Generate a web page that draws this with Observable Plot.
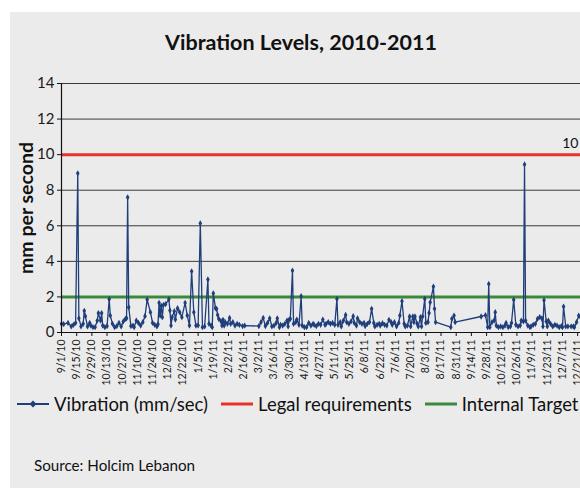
<!DOCTYPE html>
<html>
<head>
<meta charset="utf-8">
<script src="https://cdn.jsdelivr.net/npm/d3@7"></script>
<script src="https://cdn.jsdelivr.net/npm/@observablehq/plot@0.6"></script>
<style>
  html, body { margin: 0; padding: 0; background: #fff; overflow: hidden; }
  #wrap { position: relative; width: 580px; height: 488px; overflow: hidden; background: #fff; font-family: Lato, "Open Sans", sans-serif; }
  #panel { position: absolute; left: 10px; top: 12px; width: 600px; height: 476px; background: #ebebeb; }
  #title { position: absolute; left: 0; width: 602px; top: 29px; text-align: center; font-size: 21.5px; font-weight: 700; color: #111; }
  #chart { position: absolute; left: 0; top: 0; width: 600px; }
  #chart svg { max-width: none !important; }
  #legend { position: absolute; left: 17px; top: 391px; white-space: nowrap; font-size: 18.5px; color: #111; }
  #legend span.item { display: inline-flex; align-items: center; margin-right: 13px; }
  #legend svg { margin-right: 5px; }
  #source { position: absolute; left: 34px; top: 456px; font-size: 15.2px; color: #111; }
</style>
</head>
<body>
<div id="wrap">
  <div id="panel"></div>
  <div id="title">Vibration Levels, 2010-2011</div>
  <div id="chart"></div>
  <div id="legend"></div>
  <div id="source">Source: Holcim Lebanon</div>
</div>
<script>
// ---- data ----
const startDate = "2010-09-01";
const endDate = "2011-12-31";
// days since startDate for each vibration reading
const dayOffsets = [0,2,6,9,11,13,15,16,18,20,21,22,24,26,27,29,31,33,34,36,37,38,40,42,44,45,47,49,51,53,55,57,59,60,61,62,64,66,67,69,71,73,75,77,79,82,84,86,88,89,90,91,92,93,94,96,99,100,101,102,104,105,107,109,111,114,116,118,120,122,124,126,128,130,132,135,136,138,139,140,142,143,144,145,147,148,149,150,151,153,155,156,158,160,162,164,167,169,182,184,186,188,190,192,194,196,198,199,201,202,204,206,208,209,210,211,213,214,216,217,219,221,222,224,226,228,230,232,233,235,237,239,241,243,244,246,248,250,252,254,255,257,258,260,262,263,265,267,269,270,272,273,275,277,279,280,282,284,286,288,289,291,293,294,296,298,300,302,304,305,307,309,311,312,314,316,317,319,321,322,324,325,326,328,329,331,332,333,335,336,338,339,340,343,344,345,359,360,362,363,387,391,393,394,395,397,399,400,401,403,405,407,409,410,412,414,415,417,419,421,423,424,426,427,428,430,432,433,435,437,439,441,443,444,445,447,448,449,451,453,455,457,459,461,462,463,465,467,470,472,473,475,477,480,483];
const vibration = [0.49,0.47,0.54,0.34,0.43,0.54,8.95,0.8,0.34,0.49,1.22,0.92,0.34,0.54,0.39,0.3,0.3,0.67,1.09,0.67,1.09,0.39,0.3,0.36,1.87,0.95,0.49,0.3,0.36,0.54,0.34,0.62,0.77,0.8,7.6,1.42,0.36,0.39,0.3,0.67,0.54,0.39,0.58,0.92,1.85,1.14,0.54,0.43,0.34,0.47,1.67,0.95,1.5,0.86,1.55,1.6,1.87,1.24,0.39,0.86,1.2,0.73,1.37,1.14,0.86,1.67,0.95,0.39,3.44,1.14,0.39,0.4,6.14,0.3,0.34,2.98,0.49,0.39,0.3,2.2,1.37,1.33,0.99,0.77,0.64,0.39,0.71,0.39,0.58,0.49,0.82,0.49,0.58,0.39,0.49,0.43,0.36,0.39,0.36,0.58,0.82,0.36,0.54,0.8,0.34,0.39,0.54,0.8,0.3,0.43,0.39,0.49,0.67,0.34,0.73,0.77,3.48,0.49,0.58,0.73,0.43,2.04,0.39,0.3,0.3,0.54,0.39,0.49,0.43,0.36,0.49,0.43,0.73,0.43,0.49,0.58,0.49,0.54,0.43,1.89,0.43,0.58,0.34,0.67,0.99,0.58,0.49,0.62,0.92,0.54,0.39,0.8,0.58,0.49,0.54,0.36,0.49,0.58,1.33,0.54,0.34,0.43,0.49,0.39,0.52,0.43,0.39,0.71,0.58,0.43,0.58,0.34,0.54,0.95,1.76,0.49,0.34,0.39,0.9,0.34,0.9,0.58,0.9,0.49,0.34,0.86,0.34,0.9,1.89,0.54,0.58,1.1,1.7,2.58,1.33,0.58,0.3,0.77,0.95,0.58,0.9,0.97,0.3,2.73,0.3,0.58,0.67,1.14,0.39,0.3,0.34,0.3,0.39,0.54,0.3,0.34,0.54,1.84,0.43,0.34,0.39,0.67,0.62,9.45,0.67,0.39,0.3,0.34,0.43,0.49,0.77,0.86,0.8,0.34,1.82,0.62,0.34,0.67,0.49,0.34,0.43,0.39,0.3,0.36,0.3,1.46,0.34,0.34,0.34,0.34,0.3,0.58,0.95,0.6,0.5];
const legalRequirement = 10;
const internalTarget = 2;
const yTicks = [0,2,4,6,8,10,12,14];
const xTickLabels = ["9/1/10","9/15/10","9/29/10","10/13/10","10/27/10","11/10/10","11/24/10","12/8/10","12/22/10","1/5/11","1/19/11","2/2/11","2/16/11","3/2/11","3/16/11","3/30/11","4/13/11","4/27/11","5/11/11","5/25/11","6/8/11","6/22/11","7/6/11","7/20/11","8/3/11","8/17/11","8/31/11","9/14/11","9/28/11","10/12/11","10/26/11","11/9/11","11/23/11","12/7/11","12/21/11"];
const seriesNames = ["Vibration (mm/sec)", "Legal requirements", "Internal Target"];
const seriesColors = ["#1f3e7a", "#e6322a", "#3a8a3a"];

// ---- build ----
const t0 = new Date(startDate + "T00:00:00Z");
const t1 = new Date(endDate + "T00:00:00Z");
const rows = dayOffsets.map((d, i) => ({date: d3.utcDay.offset(t0, d), value: vibration[i]}));
const parseTick = d3.utcParse("%m/%d/%y");
const tickDates = xTickLabels.map(parseTick);
const fmt = d3.utcFormat("%-m/%-d/%y");

const chart = Plot.plot({
  width: 600,
  height: 392,
  marginLeft: 61,
  marginRight: 12,
  marginTop: 83,
  marginBottom: 60,
  style: {background: "transparent", fontFamily: "Lato, 'Open Sans', sans-serif", color: "#1a1a1a", maxWidth: "none"},
  x: {type: "utc", domain: [t0, t1]},
  y: {domain: [0, 14]},
  marks: [
    Plot.ruleY(yTicks.filter(v => v > 0), {stroke: "#3a3a3a", strokeWidth: 1}),
    Plot.ruleY([internalTarget], {stroke: seriesColors[2], strokeWidth: 3}),
    Plot.ruleY([legalRequirement], {stroke: seriesColors[1], strokeWidth: 3}),
    Plot.text([legalRequirement], {y: d => d, frameAnchor: "right", text: d => String(d), textAnchor: "end", dx: -10, dy: -11, fontSize: 14, fill: "#111"}),
    Plot.line(rows, {x: "date", y: "value", stroke: seriesColors[0], strokeWidth: 1.3}),
    Plot.dot(rows, {x: "date", y: "value", symbol: "diamond", r: 1.9, fill: seriesColors[0], stroke: "none"}),
    Plot.ruleY([0], {stroke: "#111", strokeWidth: 1.2}),
    Plot.ruleX([t0], {stroke: "#111", strokeWidth: 1.2}),
    Plot.axisY({ticks: yTicks, tickSize: 4, tickPadding: 3, fontSize: 15, label: null, stroke: "#111"}),
    Plot.axisX({ticks: tickDates, tickFormat: fmt, tickRotate: -90, tickSize: 4, tickPadding: 3, fontSize: 10.5, label: null, stroke: "#111"}),
    Plot.text(["mm per second"], {frameAnchor: "left", dx: -35, rotate: -90, text: d => d, fontSize: 19.5, fontWeight: 700, fill: "#111", textAnchor: "middle"})
  ]
});
document.getElementById("chart").appendChild(chart);

// legend
const legend = document.getElementById("legend");
seriesNames.forEach((name, i) => {
  const item = document.createElement("span");
  item.className = "item";
  const w = 32;
  let sw = `<svg width="${w}" height="10"><line x1="0" x2="${w}" y1="5" y2="5" stroke="${seriesColors[i]}" stroke-width="${i === 0 ? 2 : 3}"/>`;
  if (i === 0) sw += `<path d="M${w/2},1.5 L${w/2+3.5},5 L${w/2},8.5 L${w/2-3.5},5Z" fill="${seriesColors[0]}"/>`;
  sw += `</svg>`;
  item.innerHTML = sw + `<span>${name}</span>`;
  legend.appendChild(item);
});
</script>
</body>
</html>
